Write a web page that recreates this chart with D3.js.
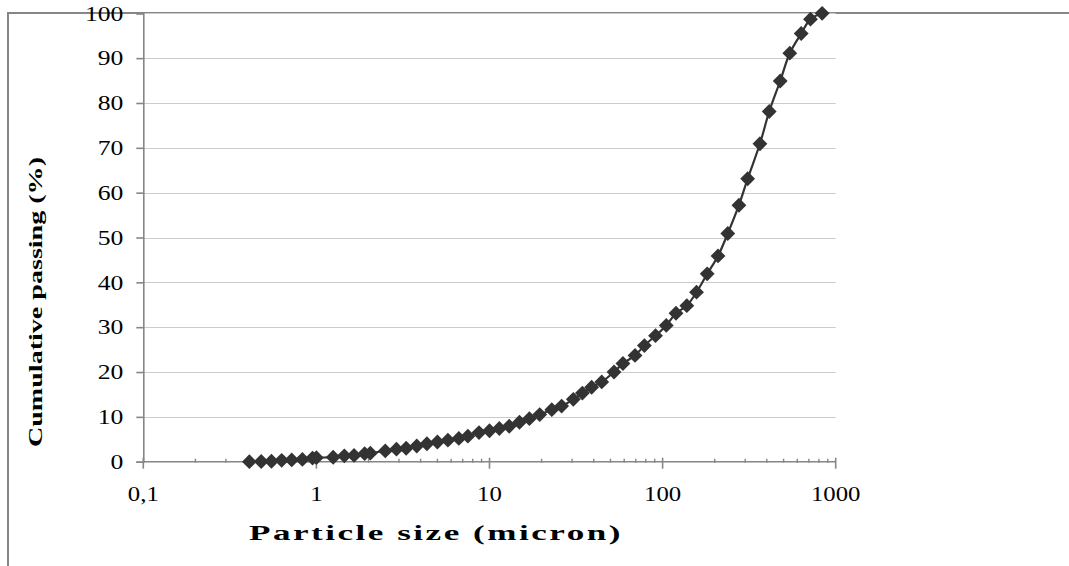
<!DOCTYPE html>
<html>
<head>
<meta charset="utf-8">
<script src="https://cdn.jsdelivr.net/npm/d3@7"></script>
<style>
    body { margin: 0; background: #fff; }
    svg { display: block; }
</style>
</head>
<body>
<svg id="psd" width="1069" height="566" viewBox="0 0 1069 566"></svg>
<script>
// Particle size (micron)
const sizes = [0.41, 0.48, 0.55, 0.63, 0.72, 0.83, 0.95, 1.0, 1.25, 1.45,
    1.65, 1.9, 2.05, 2.5, 2.9, 3.3, 3.8, 4.35, 5.0, 5.75,
    6.65, 7.5, 8.7, 10.0, 11.4, 13.0, 14.9, 17.0, 19.5, 22.9,
    26.1, 30.5, 34.4, 38.9, 44.5, 52.4, 59, 69.3, 78.5, 91,
    105, 119.5, 138, 157, 181, 209, 238, 276, 310, 365,
    413, 478, 543, 632, 715, 835];

// Cumulative passing (%)
const passing = [0, 0.05, 0.1, 0.3, 0.4, 0.5, 0.8, 0.9, 1.0, 1.3,
    1.4, 1.8, 1.9, 2.4, 2.8, 3.0, 3.5, 4.0, 4.4, 4.8,
    5.2, 5.7, 6.5, 6.9, 7.4, 7.9, 8.8, 9.6, 10.5, 11.6,
    12.4, 13.9, 15.3, 16.6, 17.8, 20.0, 21.9, 23.7, 25.9, 28.1,
    30.4, 33.1, 34.8, 37.8, 41.9, 45.9, 50.9, 57.2, 63.1, 70.9,
    78.1, 84.9, 91.1, 95.5, 98.7, 100];

const xTicks = [0.1, 1, 10, 100, 1000];
const xTickLabels = ["0,1", "1", "10", "100", "1000"];
const yTicks = [0, 10, 20, 30, 40, 50, 60, 70, 80, 90, 100];

const points = sizes.map((s, i) => ({ size: s, pass: passing[i] }));

const svg = d3.select("#psd");
const axisColor = "#868686";
const serif = "'Liberation Serif', 'Times New Roman', serif";

// the original picture is stretched sideways, so widen the glyphs a bit
function widen(sel, k) {
    sel.each(function () {
        const len = this.getComputedTextLength();
        d3.select(this)
            .attr("textLength", len * k)
            .attr("lengthAdjust", "spacingAndGlyphs");
    });
}

const x = d3.scaleLog()
    .domain([0.1, 1000])
    .range([143.3, 835.7]);

const y = d3.scaleLinear()
    .domain([0, 100])
    .range([461.7, 13.3]);

// Chart area border (only top and left edges visible)
svg.append("path")
    .attr("d", "M8,570 L8,13 L1075,13")
    .attr("fill", "none")
    .attr("stroke", axisColor)
    .attr("stroke-width", 2);

// Horizontal gridlines
svg.append("g")
    .selectAll("line")
    .data(yTicks.filter(d => d > 0))
    .join("line")
    .attr("x1", x(0.1))
    .attr("x2", x(1000))
    .attr("y1", d => Math.round(y(d)) + 0.5)
    .attr("y2", d => Math.round(y(d)) + 0.5)
    .attr("stroke", "#cbcbcb")
    .attr("stroke-width", 1);

// Y axis
const yAxis = svg.append("g")
    .attr("transform", `translate(${x(0.1)},0)`)
    .call(d3.axisLeft(y).tickValues(yTicks).tickSize(7).tickPadding(13));
yAxis.select(".domain").attr("stroke", axisColor).attr("stroke-width", 1.6);
yAxis.selectAll(".tick line").attr("stroke", axisColor).attr("stroke-width", 1.6);
yAxis.selectAll("text")
    .attr("font-family", serif)
    .attr("font-size", 21)
    .attr("fill", "#000")
    .call(widen, 1.22);

// X axis: minor ticks inside, major ticks crossing
const minor = [];
for (let dec = 0.1; dec < 1000; dec *= 10) {
    for (let k = 2; k <= 9; k++) minor.push(dec * k);
}
const xg = svg.append("g").attr("transform", `translate(0,${y(0)})`);
xg.append("line")
    .attr("x1", x(0.1)).attr("x2", x(1000))
    .attr("stroke", axisColor).attr("stroke-width", 1.6);
xg.selectAll(".minor")
    .data(minor)
    .join("line")
    .attr("class", "minor")
    .attr("x1", d => x(d)).attr("x2", d => x(d))
    .attr("y1", -3).attr("y2", 1)
    .attr("stroke", axisColor).attr("stroke-width", 1.4);
xg.selectAll(".major")
    .data(xTicks)
    .join("line")
    .attr("class", "major")
    .attr("x1", d => x(d)).attr("x2", d => x(d))
    .attr("y1", -4).attr("y2", 7)
    .attr("stroke", axisColor).attr("stroke-width", 1.6);
xg.selectAll("text")
    .data(xTicks)
    .join("text")
    .attr("x", d => x(d))
    .attr("y", 39)
    .attr("text-anchor", "middle")
    .attr("font-family", serif)
    .attr("font-size", 21)
    .text((d, i) => xTickLabels[i])
    .call(widen, 1.18);

// Smoothed line through the points
const line = d3.line()
    .x(d => x(d.size))
    .y(d => y(d.pass))
    .curve(d3.curveCatmullRom.alpha(0.5));

svg.append("path")
    .datum(points)
    .attr("d", line)
    .attr("fill", "none")
    .attr("stroke", "#333")
    .attr("stroke-width", 2.2);

// Diamond markers
const diamond = d3.symbol(d3.symbolSquare, 110);
svg.append("g")
    .selectAll("path")
    .data(points)
    .join("path")
    .attr("transform", d => `translate(${x(d.size)},${y(d.pass)}) rotate(45)`)
    .attr("d", diamond)
    .attr("fill", "#333");

// Axis titles
svg.append("text")
    .attr("x", 436)
    .attr("y", 540)
    .attr("text-anchor", "middle")
    .attr("font-family", serif)
    .attr("font-weight", "bold")
    .attr("font-size", 21)
    .attr("letter-spacing", 1.5)
    .attr("textLength", 374)
    .attr("lengthAdjust", "spacingAndGlyphs")
    .text("Particle size (micron)");

svg.append("text")
    .attr("transform", "translate(42,302) rotate(-90)")
    .attr("text-anchor", "middle")
    .attr("font-family", serif)
    .attr("font-weight", "bold")
    .attr("font-size", 19)
    .attr("textLength", 290)
    .attr("lengthAdjust", "spacingAndGlyphs")
    .text("Cumulative passing (%)");
</script>
</body>
</html>
